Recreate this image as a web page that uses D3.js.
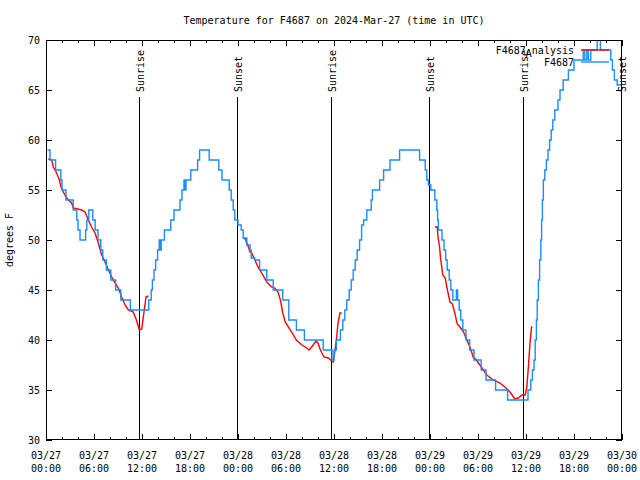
<!DOCTYPE html>
<html><head><meta charset="utf-8">
<script src="https://cdn.jsdelivr.net/npm/d3@7"></script>
<style>
body{margin:0;background:#fff}
svg{display:block;background:#fff}
text{font-family:"DejaVu Sans Mono",monospace;font-size:10px;fill:#000}
</style></head>
<body><svg id="c" width="640" height="480"></svg>
<script>
// ---- data (hours since 2024-03-27 00:00 UTC) ----
const titleText = "Temperature for F4687 on 2024-Mar-27 (time in UTC)";
const yLabel = "degrees F";
const yTicks = [30,35,40,45,50,55,60,65,70];
const xTickHours = [0,6,12,18,24,30,36,42,48,54,60,66,72];

// observed F4687 (step changes)
const obsHours = [0.2,0.5,1.2,1.85,2.0,2.5,3.4,3.85,4.0,4.25,4.95,5.1,5.35,5.85,6.15,6.5,6.85,7.1,7.55,8.1,8.7,9.35,10.55,12.85,
 13.15,13.3,13.5,13.7,13.95,14.15,14.3,14.4,14.8,15.6,16.0,16.75,17.0,17.25,17.35,17.5,18.1,18.95,19.2,20.4,21.6,22.0,22.9,23.15,23.4,23.6,
 23.8,24.0,24.4,24.65,25.1,25.5,25.65,26.1,26.7,27.6,28.4,29.6,30.35,31.3,32.3,34.65,35.75,36.0,36.3,
 36.8,37.1,37.35,37.6,37.9,38.15,38.4,38.65,38.9,39.2,39.45,39.7,40.1,40.65,40.8,41.7,42.2,43.0,44.2,46.7,47.4,47.6,47.8,48.1,48.6,48.85,48.95,49.05,
 49.5,49.75,49.95,50.15,50.4,50.6,50.85,51.3,51.45,51.65,51.85,52.1,52.5,52.95,53.5,54.4,55.0,56.2,57.7,60.25,60.6,60.8,61.0,61.15,61.3,61.4,61.55,61.7,61.85,61.95,62.05,
 62.17,62.35,62.55,62.75,62.95,63.15,63.35,63.6,64.0,64.25,64.65,65.3,66.0,67.15,67.35,67.6,67.8,68.1,68.9,69.3,70.6,70.8,71.05,71.4,72.0];
const obsTemps = [59,58,57,56,55,54,53,52,51,50,51,52,53,52,51,50,49,48,47,46,45,44,43,44,
 45,46,47,48,49,50,49,50,51,52,53,54,55,56,55,56,57,58,59,58,57,56,55,54,53,52,
 52,51.5,51,50.2,49.5,49,48.2,48,47,46,45,44,42,41,40,39,38,39,40,
 41,42,43,44,45,46,47,48,49,50,51.5,52,53,54,55,56,57,58,59,58,57,56,55.5,55,54,53,52,51,
 50,49,48,47,46,45,44,45,44,43,42,41,40,39,38,37,36,35,34,35,36,37,38,40,42,44,46,48,50,52,54,
 56,57,58,59,60,61,62,63,64,65,66,67,68,69,68,69,68,69,70,69,68,67,66,65.5,65.5];

// F4687 Analysis (null = gap)
const anaHours = [0.29,0.71,0.92,1.33,1.67,1.88,2.17,2.58,3.2,3.42,4.46,4.88,5.29,5.7,6.13,6.54,6.96,7.38,7.8,8.4,9.04,9.46,9.88,10.3,10.9,11.3,11.67,11.96,12.25,12.5,12.8,
 12.9,
 24.67,24.9,25.3,25.5,25.7,26.0,26.5,26.9,27.6,28.2,28.6,29.0,29.3,29.6,29.9,30.3,30.7,31.3,32.0,32.6,32.9,33.3,33.75,34.0,34.3,34.75,35.3,35.7,35.9,36.1,36.3,36.5,36.75,36.95,
 37.0,
 48.6,48.9,49.0,49.2,49.3,49.6,49.9,50.1,50.5,50.8,51.1,51.4,51.75,52.2,52.6,53.0,53.4,53.8,54.5,55.1,55.9,56.75,57.5,58.0,58.6,59.0,59.5,59.9,60.1,60.3,60.5,60.7,60.8];
const anaTemps = [58.1,58.0,57.3,56.7,56.0,55.3,54.8,54.2,53.7,53.2,53.0,52.8,52.0,51.3,50.7,49.7,48.5,47.8,47.0,46.0,45.2,44.3,43.5,43.0,42.8,42.0,41.0,41.1,42.8,44.3,44.4,
 null,
 50.2,50.1,49.3,48.8,48.7,48.2,47.3,46.8,45.8,45.3,45.2,44.8,44.0,42.7,41.8,41.3,40.8,40.0,39.5,39.2,39.0,39.4,39.9,39.7,39.0,38.3,38.2,37.9,37.8,38.8,40.0,41.7,42.7,42.7,
 null,
 51.3,51.3,50.3,49.3,48.3,46.5,46.2,45.3,43.8,43.6,42.7,41.6,41.3,40.8,40.0,39.3,38.3,38.0,37.2,36.5,36.0,35.7,35.2,34.8,34.1,34.2,34.5,34.5,35.3,37.3,39.7,41.3,41.3];

const sunHours = [11.617,23.867,35.6,47.883,59.567,71.917];
const sunLabels = ["Sunrise","Sunset","Sunrise","Sunset","Sunrise","Sunset"];

const seriesNames = ["F4687_Analysis","F4687"];
const seriesColors = ["#ff0000","#1a8cff"];

// ---- drawing ----
const t0 = Date.UTC(2024,2,27,0,0);
const toDate = h => new Date(t0 + h*3600e3);
const svg = d3.select("#c");
const L=46,R=622,T=40,B=440;
const x = d3.scaleUtc().domain([toDate(0),toDate(72)]).range([L,R]);
const y = d3.scaleLinear().domain([30,70]).range([B,T]);

svg.append("text").attr("x",(L+R)/2).attr("y",24).attr("text-anchor","middle").text(titleText);
svg.append("text").attr("transform",`translate(13,240) rotate(-90)`).attr("text-anchor","middle").text(yLabel);

const majors = xTickHours.map(toDate);
const minors = d3.range(0,73,2).filter(h=>h%6!==0).map(toDate);

function strip(g){g.select(".domain").remove();g.selectAll("line").attr("stroke","#000");}
svg.append("g").attr("transform",`translate(0,${B})`).call(d3.axisBottom(x).tickValues(majors).tickSize(-6).tickFormat("")).call(strip);
svg.append("g").attr("transform",`translate(0,${B})`).call(d3.axisBottom(x).tickValues(minors).tickSize(-3).tickFormat("")).call(strip);
svg.append("g").attr("transform",`translate(0,${T})`).call(d3.axisTop(x).tickValues(majors).tickSize(-6).tickFormat("")).call(strip);
svg.append("g").attr("transform",`translate(0,${T})`).call(d3.axisTop(x).tickValues(minors).tickSize(-3).tickFormat("")).call(strip);
svg.append("g").attr("transform",`translate(${L},0)`).call(d3.axisLeft(y).tickValues(yTicks).tickSize(-6).tickFormat("")).call(strip);
svg.append("g").attr("transform",`translate(${R},0)`).call(d3.axisRight(y).tickValues(yTicks).tickSize(-6).tickFormat("")).call(strip);

const fD = d3.utcFormat("%m/%d"), fT = d3.utcFormat("%H:%M");
const xl = svg.append("g");
majors.forEach(d=>{
  const t = xl.append("text").attr("x",x(d)).attr("text-anchor","middle");
  t.append("tspan").attr("x",x(d)).attr("y",459).text(fD(d));
  t.append("tspan").attr("x",x(d)).attr("y",472).text(fT(d));
});
yTicks.forEach(v=>{
  svg.append("text").attr("x",40).attr("y",y(v)+4).attr("text-anchor","end").text(v);
});

// sunrise / sunset
sunHours.forEach((h,i)=>{
  const xx = Math.round(x(toDate(h)))+0.5;
  svg.append("line").attr("x1",xx).attr("x2",xx).attr("y1",97).attr("y2",B).attr("stroke","#000").attr("stroke-width",1);
  svg.append("text").attr("transform",`translate(${xx+4},92) rotate(-90)`).attr("text-anchor","start").text(sunLabels[i]);
});

// series
const anaData = anaHours.map((h,i)=>({t:toDate(h),v:anaTemps[i]}));
const obsData = obsHours.map((h,i)=>({t:toDate(h),v:obsTemps[i]}));
svg.append("clipPath").attr("id","pc").append("rect").attr("x",L).attr("y",T).attr("width",R-L).attr("height",B-T);
svg.append("path").datum(anaData).attr("clip-path","url(#pc)")
  .attr("d",d3.line().defined(d=>d.v!=null).x(d=>x(d.t)).y(d=>y(d.v)))
  .attr("fill","none").attr("stroke",seriesColors[0]).attr("stroke-width",1.4);
svg.append("path").datum(obsData).attr("clip-path","url(#pc)")
  .attr("d",d3.line().curve(d3.curveStepAfter).x(d=>x(d.t)).y(d=>y(d.v)))
  .attr("fill","none").attr("stroke",seriesColors[1]).attr("stroke-width",1.4);

// border
svg.append("rect").attr("x",L+0.5).attr("y",T+0.5).attr("width",R-L-1).attr("height",B-T-1).attr("fill","none").attr("stroke","#000");

// legend
const lg = svg.append("g");
const lt1 = lg.append("text").attr("x",574).attr("y",54).attr("text-anchor","end");
const nm = seriesNames[0].split("_");
lt1.append("tspan").text(nm[0]);
lt1.append("tspan").attr("dy",3).text(nm[1][0]);
lt1.append("tspan").attr("dy",-3).text(nm[1].slice(1));
lg.append("line").attr("x1",581).attr("x2",609).attr("y1",50).attr("y2",50).attr("stroke",seriesColors[0]).attr("stroke-width",1.4);
lg.append("text").attr("x",574).attr("y",66).attr("text-anchor","end").text(seriesNames[1]);
lg.append("line").attr("x1",581).attr("x2",609).attr("y1",62).attr("y2",62).attr("stroke",seriesColors[1]).attr("stroke-width",1.4);
</script></body></html>
